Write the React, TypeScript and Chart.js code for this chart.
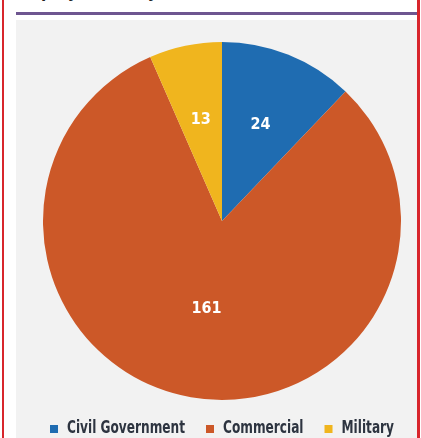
import React, { useRef, useEffect } from "react";
import { Chart, registerables, Plugin } from "chart.js";

Chart.register(...registerables);

const sectors = ["Civil Government", "Commercial", "Military"];
const counts = [24, 161, 13];
const sectorColors = ["#1f6cb1", "#cc5828", "#f0b51e"];

const FONT = "'DejaVu Sans Condensed', 'Liberation Sans Narrow', 'Open Sans', sans-serif";

// white value labels inside each slice
const sliceLabels: Plugin<"pie"> = {
    id: "sliceLabels",
    afterDatasetsDraw(chart) {
        const ctx = chart.ctx;
        const meta = chart.getDatasetMeta(0);
        ctx.save();
        ctx.fillStyle = "#ffffff";
        ctx.font = `bold 16px ${FONT}`;
        ctx.textAlign = "center";
        ctx.textBaseline = "middle";
        meta.data.forEach((el: any, i) => {
            const { x, y, startAngle, endAngle, outerRadius } = el.getProps(
                ["x", "y", "startAngle", "endAngle", "outerRadius"], true);
            const mid = (startAngle + endAngle) / 2;
            // big slices get their label pulled in towards the centre
            const r = outerRadius * (endAngle - startAngle > Math.PI ? 0.5 : 0.58);
            ctx.fillText(String(counts[i]), x + Math.cos(mid) * r, y + Math.sin(mid) * r);
        });
        ctx.restore();
    },
};

// condensed legend row under the pie (the built-in legend can't squeeze text)
const narrowLegend: Plugin<"pie"> = {
    id: "narrowLegend",
    afterDraw(chart) {
        const ctx = chart.ctx;
        const squeeze = 0.75;
        const box = 8;
        const gapText = 9;
        const gapItem = 21;
        ctx.save();
        ctx.font = `bold 18px ${FONT}`;
        const widths = sectors.map(s => ctx.measureText(s).width * squeeze);
        const total = widths.reduce((a, w) => a + box + gapText + w, 0) + gapItem * (sectors.length - 1);
        let x = (chart.width - total) / 2 + 6;
        const y = chart.height - 10;
        ctx.textBaseline = "middle";
        sectors.forEach((s, i) => {
            ctx.fillStyle = sectorColors[i];
            ctx.fillRect(x, y - box / 2 + 1, box, box);
            x += box + gapText;
            ctx.save();
            ctx.translate(x, y);
            ctx.scale(squeeze, 1);
            ctx.fillStyle = "#2d3440";
            ctx.fillText(s, 0, 0);
            ctx.restore();
            x += widths[i] + gapItem;
        });
        ctx.restore();
    },
};

const App: React.FC = () => {
    const canvasRef = useRef<HTMLCanvasElement | null>(null);
    const chartRef = useRef<Chart<"pie"> | null>(null);

    useEffect(() => {
        if (!canvasRef.current) return;
        if (chartRef.current) chartRef.current.destroy();

        chartRef.current = new Chart(canvasRef.current, {
            type: "pie",
            data: {
                labels: sectors,
                datasets: [{
                    data: counts,
                    backgroundColor: sectorColors,
                    borderWidth: 0,
                }],
            },
            options: {
                animation: false,
                responsive: false,
                maintainAspectRatio: false,
                layout: { padding: { top: 22, left: 27, right: 15, bottom: 38 } },
                plugins: {
                    tooltip: { enabled: false },
                    legend: { display: false },
                },
            },
            plugins: [sliceLabels, narrowLegend],
        });

        return () => {
            if (chartRef.current) {
                chartRef.current.destroy();
                chartRef.current = null;
            }
        };
    }, []);

    return (
        <div style={{ position: "fixed", left: 0, top: 0, width: 421, height: 438, background: "#ffffff", overflow: "hidden" }}>
            <div style={{ position: "absolute", left: 2, top: 0, width: 2, height: 438, background: "#d8262c" }} />
            <div style={{ position: "absolute", left: 417, top: 0, width: 3, height: 438, background: "#d8262c" }} />
            <div style={{
                position: "absolute", left: 18, top: -19, whiteSpace: "nowrap",
                font: `bold 17px ${FONT}`, color: "#222",
            }}>
                Deployments by Sector, 2016
            </div>
            <div style={{ position: "absolute", left: 16, top: 12, width: 401, height: 3, background: "#6e5690" }} />
            <div style={{ position: "absolute", left: 16, top: 20, width: 401, height: 418, background: "#f2f2f2" }}>
                <canvas ref={canvasRef} width={400} height={418} style={{ width: 400, height: 418, display: "block" }} />
            </div>
        </div>
    );
};

export default App;
